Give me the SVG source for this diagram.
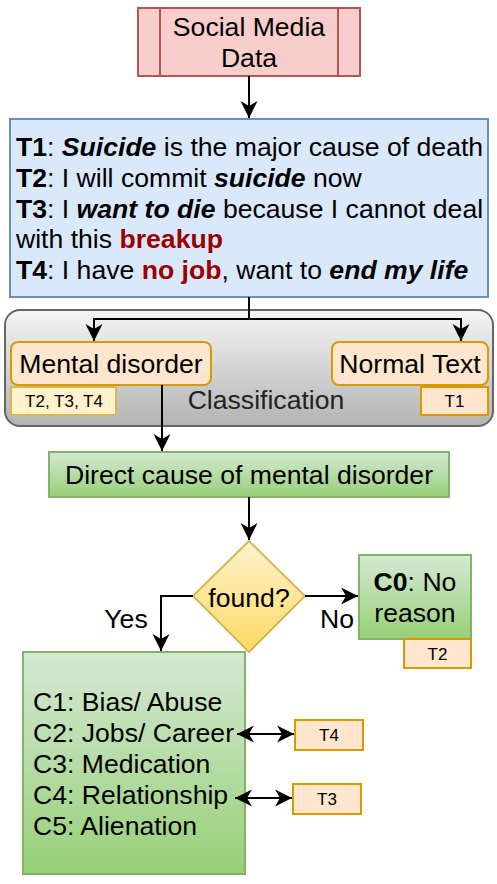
<svg xmlns="http://www.w3.org/2000/svg" width="497" height="884" viewBox="0 0 497 884">
<style>
text{font-family:"Liberation Sans",Arial,Helvetica,sans-serif;font-size:26.6px;fill:#000}
.sm{font-size:17px}
.b{font-weight:bold}
.bi{font-weight:bold;font-style:italic}
.red{fill:#990000;font-weight:bold}
.conn{fill:none;stroke:#000;stroke-width:2}
.tag{fill:#ffe6cc;stroke:#d79b00;stroke-width:2}
.green{fill:url(#gGreen);stroke:#82b366;stroke-width:2}
</style>
<defs>
<linearGradient id="gGreen" x1="0" y1="0" x2="0" y2="1"><stop offset="0" stop-color="#d5e8d4"/><stop offset="1" stop-color="#97d077"/></linearGradient>
<linearGradient id="gGray" x1="0" y1="0" x2="0" y2="1"><stop offset="0" stop-color="#f5f5f5"/><stop offset="1" stop-color="#b3b3b3"/></linearGradient>
<linearGradient id="gYel" x1="0" y1="0" x2="0" y2="1"><stop offset="0" stop-color="#fff2cc"/><stop offset="1" stop-color="#ffd966"/></linearGradient>
<marker id="arr" markerUnits="userSpaceOnUse" markerWidth="20" markerHeight="20" viewBox="-18 -10 20 20" refX="0" refY="0" orient="auto-start-reverse">
<path d="M0,0 L-17,-8.5 L-12,0 L-17,8.5 Z" fill="#000"/>
</marker>
</defs>

<g id="social-media-data">
<rect x="138" y="8" width="222" height="68" fill="#f8cecc" stroke="#b85450" stroke-width="2"/>
<line x1="160" y1="8" x2="160" y2="76" stroke="#b85450" stroke-width="2"/>
<line x1="338" y1="8" x2="338" y2="76" stroke="#b85450" stroke-width="2"/>
<text x="249" y="36" text-anchor="middle">Social Media</text>
<text x="249" y="67" text-anchor="middle">Data</text>
</g>

<g id="texts">
<rect x="10" y="119" width="478" height="178" fill="#dae8fc" stroke="#6c8ebf" stroke-width="2"/>
<text x="16" y="156"><tspan class="b">T1</tspan>: <tspan class="bi">Suicide</tspan> is the major cause of death</text>
<text x="16" y="187"><tspan class="b">T2</tspan>: I will commit <tspan class="bi">suicide</tspan> now</text>
<text x="16" y="218"><tspan class="b">T3</tspan>: I <tspan class="bi">want to die</tspan> because I cannot deal</text>
<text x="16" y="248">with this <tspan class="red">breakup</tspan></text>
<text x="16" y="279"><tspan class="b">T4</tspan>: I have <tspan class="red">no job</tspan>, want to <tspan class="bi">end my life</tspan></text>
</g>

<g id="classification">
<rect x="5" y="310" width="488" height="116" rx="15" fill="url(#gGray)" stroke="#666666" stroke-width="2"/>
<text x="266" y="409" text-anchor="middle" style="fill:#222">Classification</text>
</g>

<g id="mental-disorder">
<rect x="11" y="342" width="200" height="43" rx="7" fill="#ffe6cc" stroke="#d79b00" stroke-width="2"/>
<text x="111" y="373" text-anchor="middle">Mental disorder</text>
</g>
<g id="tag-t234">
<rect x="11" y="387" width="105" height="28" fill="#fff2cc" stroke="#d6b656" stroke-width="2"/>
<text class="sm" x="64" y="407" text-anchor="middle">T2, T3, T4</text>
</g>

<g id="normal-text">
<rect x="332" y="342" width="156" height="43" rx="7" fill="#ffe6cc" stroke="#d79b00" stroke-width="2"/>
<text x="410" y="373" text-anchor="middle">Normal Text</text>
</g>
<g id="tag-t1">
<rect class="tag" x="421" y="387" width="67" height="28"/>
<text class="sm" x="454.5" y="407" text-anchor="middle">T1</text>
</g>

<g id="direct-cause">
<rect class="green" x="49" y="452" width="400" height="45"/>
<text x="249" y="484" text-anchor="middle">Direct cause of mental disorder</text>
</g>

<g id="found">
<path d="M249,541 L305,596 L249,652 L193,596 Z" fill="url(#gYel)" stroke="#d6b656" stroke-width="2"/>
<text x="249" y="607" text-anchor="middle">found?</text>
</g>

<g id="c0">
<rect class="green" x="359" y="555" width="112" height="84"/>
<text x="415" y="591" text-anchor="middle"><tspan class="b">C0</tspan>: No</text>
<text x="415" y="622" text-anchor="middle">reason</text>
</g>
<g id="tag-t2">
<rect class="tag" x="404" y="639" width="67" height="29"/>
<text class="sm" x="437.5" y="660" text-anchor="middle">T2</text>
</g>

<g id="causes">
<rect class="green" x="23" y="652" width="222" height="222"/>
<text x="33" y="711">C1: Bias/ Abuse</text>
<text x="33" y="742">C2: Jobs/ Career</text>
<text x="33" y="773">C3: Medication</text>
<text x="33" y="804">C4: Relationship</text>
<text x="33" y="835">C5: Alienation</text>
</g>

<g id="tag-t4">
<rect class="tag" x="295" y="720" width="68" height="30"/>
<text class="sm" x="329" y="741" text-anchor="middle">T4</text>
</g>
<g id="tag-t3">
<rect class="tag" x="293" y="784" width="68" height="30"/>
<text class="sm" x="327" y="805" text-anchor="middle">T3</text>
</g>

<g id="connectors">
<path class="conn" d="M249,76 V118" marker-end="url(#arr)"/>
<path class="conn" d="M249,297 V319 H94 V341" marker-end="url(#arr)"/>
<path class="conn" d="M249,319 H461 V341" marker-end="url(#arr)"/>
<path class="conn" d="M162,385 V451" marker-end="url(#arr)"/>
<path class="conn" d="M249,497 V540" marker-end="url(#arr)"/>
<path class="conn" d="M193,596 H161 V651" marker-end="url(#arr)"/>
<path class="conn" d="M305,596 H358" marker-end="url(#arr)"/>
<path class="conn" d="M237,734 H294" marker-start="url(#arr)" marker-end="url(#arr)"/>
<path class="conn" d="M235,798 H292" marker-start="url(#arr)" marker-end="url(#arr)"/>
<text x="126" y="628" text-anchor="middle">Yes</text>
<text x="337" y="628" text-anchor="middle">No</text>
</g>
</svg>
